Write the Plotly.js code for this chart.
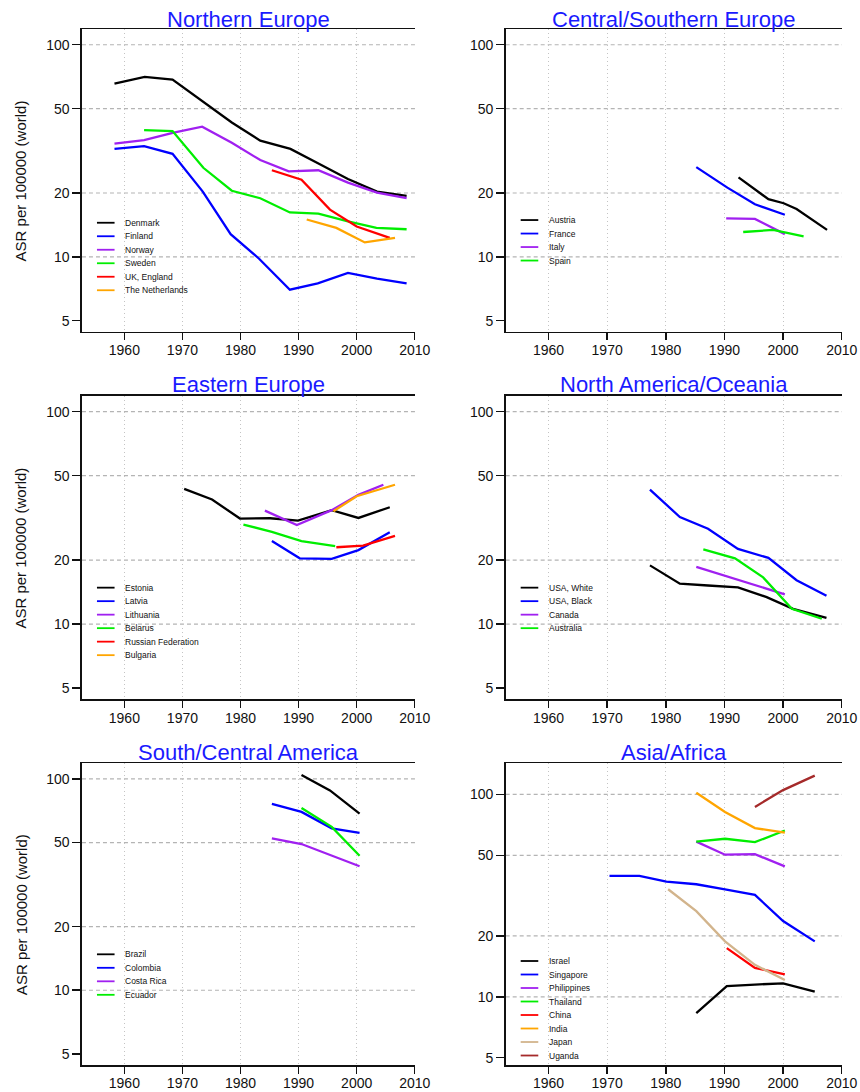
<!DOCTYPE html>
<html><head><meta charset="utf-8">
<script src="https://cdn.plot.ly/plotly-3.0.1.min.js"></script>
<style>html,body{margin:0;padding:0;background:#fff}#chart{width:860px;height:1092px}</style>
</head><body><div id="chart"></div>
<script>
// ---------- DATA (year, ASR per 100000 world) ----------
// Northern Europe
const yrDenmark = [1958.3, 1963.5, 1968.3, 1973.5, 1978.5, 1983.4, 1988.6, 1993.5, 1998.5, 2003.5, 2008.6];
const asrDenmark = [65.5, 70.5, 68.5, 54, 43, 35.3, 32.3, 27.5, 23.3, 20.3, 19.4];
const yrFinland = [1958.3, 1963.4, 1968.3, 1973.5, 1978.3, 1983.2, 1988.5, 1993.3, 1998.5, 2003.5, 2008.6];
const asrFinland = [32.3, 33.3, 30.6, 20.3, 12.8, 9.8, 7.0, 7.5, 8.4, 7.9, 7.5];
const yrNorway = [1958.3, 1963.4, 1968.5, 1973.4, 1978.5, 1983.4, 1988.3, 1993.4, 1998.5, 2003.5, 2008.6];
const asrNorway = [34.2, 35.5, 38.5, 41.1, 34.5, 28.6, 25.3, 25.6, 22.4, 20.1, 18.9];
const yrSweden = [1963.4, 1968.3, 1973.6, 1978.5, 1983.4, 1988.5, 1993.4, 1998.5, 2003.4, 2008.6];
const asrSweden = [39.6, 39.2, 26.3, 20.5, 18.9, 16.2, 16.0, 14.7, 13.7, 13.5];
const yrUK = [1985.4, 1990.5, 1995.4, 2000.0, 2005.7];
const asrUK = [25.6, 23.1, 16.7, 13.9, 12.3];
const yrNetherlands = [1991.4, 1996.5, 2001.4, 2006.6];
const asrNetherlands = [15.0, 13.7, 11.7, 12.3];
// Central/Southern Europe
const yrAustria = [1992.4, 1997.5, 2000.1, 2002.3, 2007.5];
const asrAustria = [23.7, 18.7, 17.9, 16.8, 13.4];
const yrFrance = [1985.2, 1990.5, 1995.2, 2000.3];
const asrFrance = [26.5, 21.2, 17.7, 15.8];
const yrItaly = [1990.3, 1995.2, 2000.3];
const asrItaly = [15.2, 15.1, 12.8];
const yrSpain = [1993.2, 1998.3, 2003.5];
const asrSpain = [13.1, 13.4, 12.5];
// Eastern Europe
const yrEstonia = [1970.3, 1975.1, 1979.9, 1985.1, 1989.9, 1995.7, 2000.3, 2005.7];
const asrEstonia = [43.3, 38.6, 31.4, 31.5, 30.7, 34.4, 31.6, 35.5];
const yrLatvia = [1985.4, 1990.2, 1995.7, 2000.3, 2005.7];
const asrLatvia = [24.6, 20.4, 20.3, 22.3, 27.1];
const yrLithuania = [1984.2, 1989.7, 1995.7, 2000.3, 2004.6];
const asrLithuania = [34.2, 29.3, 34.4, 40.6, 45.3];
const yrBelarus = [1980.5, 1985.4, 1990.5, 1996.3];
const asrBelarus = [29.4, 27.2, 24.6, 23.3];
const yrRussia = [1996.5, 2001.1, 2006.6];
const asrRussia = [23.0, 23.4, 26.0];
const yrBulgaria = [1996.0, 2000.0, 2006.6];
const asrBulgaria = [34.0, 40.0, 45.3];
// North America/Oceania
const yrUSAWhite = [1977.3, 1982.4, 1987.2, 1992.3, 1997.2, 2001.7, 2007.4];
const asrUSAWhite = [18.9, 15.5, 15.2, 14.9, 13.4, 11.8, 10.7];
const yrUSABlack = [1977.3, 1982.4, 1987.2, 1992.3, 1997.5, 2002.3, 2007.4];
const asrUSABlack = [43.0, 31.9, 28.1, 22.6, 20.5, 16.1, 13.6];
const yrCanada = [1985.2, 2000.3];
const asrCanada = [18.6, 13.8];
const yrAustralia = [1986.4, 1991.8, 1996.6, 2001.5, 2006.6];
const asrAustralia = [22.5, 20.4, 16.6, 11.8, 10.6];
// South/Central America
const yrBrazil = [1990.5, 1995.4, 2000.5];
const asrBrazil = [104.4, 88.2, 68.5];
const yrColombia = [1985.4, 1990.5, 1995.7, 2000.5];
const asrColombia = [76.3, 69.8, 58.4, 55.6];
const yrCostaRica = [1985.4, 1990.5, 2000.5];
const asrCostaRica = [52.3, 49.2, 38.6];
const yrEcuador = [1990.5, 1995.7, 2000.5];
const asrEcuador = [72.9, 59.3, 43.3];
// Asia/Africa
const yrIsrael = [1985.2, 1990.4, 1995.2, 2000.0, 2005.4];
const asrIsrael = [8.3, 11.3, 11.5, 11.65, 10.6];
const yrSingapore = [1970.4, 1975.5, 1980.1, 1985.2, 1990.1, 1995.2, 2000.0, 2005.4];
const asrSingapore = [39.6, 39.6, 37.1, 36.0, 34.0, 31.9, 23.7, 18.8];
const yrPhilippines = [1985.2, 1990.1, 1995.2, 2000.3];
const asrPhilippines = [58.5, 50.4, 50.7, 44.1];
const yrThailand = [1985.2, 1990.1, 1995.2, 2000.3];
const asrThailand = [58.5, 60.4, 58.1, 66.4];
const yrChina = [1990.4, 1995.2, 2000.3];
const asrChina = [17.4, 13.9, 12.9];
const yrIndia = [1985.2, 1990.1, 1995.2, 2000.3];
const asrIndia = [101.9, 82.0, 68.2, 64.7];
const yrJapan = [1980.4, 1985.2, 1990.1, 1995.2, 2000.3];
const asrJapan = [34.0, 26.5, 18.8, 14.4, 12.1];
const yrUganda = [1995.2, 2000.0, 2005.4];
const asrUganda = [86.8, 105.1, 123.9];

// tick labels
const xTickYears = [1960, 1970, 1980, 1990, 2000, 2010];
const yTickVals = [5, 10, 20, 50, 100];
const yTickText = ['5', '10', '20', '50', '100'];
const yGridVals = [10, 20, 50, 100];

// ---------- PANELS ----------
const C = {black:'#000000', blue:'#0000FF', purple:'#A020F0', green:'#00EE00', red:'#FF0000', orange:'#FFA500', tan:'#D2B48C', brown:'#A52A2A'};
const panels = [
  {title:'Northern Europe', series:[
    ['Denmark', yrDenmark, asrDenmark, C.black], ['Finland', yrFinland, asrFinland, C.blue],
    ['Norway', yrNorway, asrNorway, C.purple], ['Sweden', yrSweden, asrSweden, C.green],
    ['UK, England', yrUK, asrUK, C.red], ['The Netherlands', yrNetherlands, asrNetherlands, C.orange]]},
  {title:'Central/Southern Europe', series:[
    ['Austria', yrAustria, asrAustria, C.black], ['France', yrFrance, asrFrance, C.blue],
    ['Italy', yrItaly, asrItaly, C.purple], ['Spain', yrSpain, asrSpain, C.green]]},
  {title:'Eastern Europe', series:[
    ['Estonia', yrEstonia, asrEstonia, C.black], ['Latvia', yrLatvia, asrLatvia, C.blue],
    ['Lithuania', yrLithuania, asrLithuania, C.purple], ['Belarus', yrBelarus, asrBelarus, C.green],
    ['Russian Federation', yrRussia, asrRussia, C.red], ['Bulgaria', yrBulgaria, asrBulgaria, C.orange]]},
  {title:'North America/Oceania', series:[
    ['USA, White', yrUSAWhite, asrUSAWhite, C.black], ['USA, Black', yrUSABlack, asrUSABlack, C.blue],
    ['Canada', yrCanada, asrCanada, C.purple], ['Australia', yrAustralia, asrAustralia, C.green]]},
  {title:'South/Central America', series:[
    ['Brazil', yrBrazil, asrBrazil, C.black], ['Colombia', yrColombia, asrColombia, C.blue],
    ['Costa Rica', yrCostaRica, asrCostaRica, C.purple], ['Ecuador', yrEcuador, asrEcuador, C.green]]},
  {title:'Asia/Africa', series:[
    ['Israel', yrIsrael, asrIsrael, C.black], ['Singapore', yrSingapore, asrSingapore, C.blue],
    ['Philippines', yrPhilippines, asrPhilippines, C.purple], ['Thailand', yrThailand, asrThailand, C.green],
    ['China', yrChina, asrChina, C.red], ['India', yrIndia, asrIndia, C.orange],
    ['Japan', yrJapan, asrJapan, C.tan], ['Uganda', yrUganda, asrUganda, C.brown]]}
];

// ---------- LAYOUT ----------
const W = 860, H = 1092;
const colDomains = [[0.0953, 0.4826], [0.5880, 0.9791]];
const rowDomains = [[0.6960, 0.9734], [0.3596, 0.6374], [0.0247, 0.3010]];
const yRanges = [[0.646, 2.074], [0.646, 2.074], [0.646, 2.074], [0.646, 2.074], [0.646, 2.074], [0.663, 2.154]];
const titleShift = [9.5, 11.5, 11];
const legendTop = [193.7, 191, 191.7, 191.7, 191, 197.7];
const legendStep = 13.5;
const FONT = 'Liberation Sans, Arial, Helvetica, sans-serif';

const traces = [];
const layout = {
  width: W, height: H, margin: {l:0, r:0, t:0, b:0},
  paper_bgcolor: '#ffffff', plot_bgcolor: '#ffffff',
  showlegend: false, font: {family: FONT, color: '#111'},
  shapes: [], annotations: []
};

panels.forEach((p, i) => {
  const n = i + 1, row = Math.floor(i / 2), col = i % 2;
  const xa = 'x' + n, ya = 'y' + n;
  const wpx = (colDomains[col][1] - colDomains[col][0]) * W;
  const hpx = (rowDomains[row][1] - rowDomains[row][0]) * H;
  layout['xaxis' + n] = {
    domain: colDomains[col], anchor: ya, range: [1952.7, 2010.05],
    tickmode: 'array', tickvals: xTickYears, ticktext: xTickYears.map(String),
    ticks: 'outside', ticklen: 7, tickwidth: 1.5, tickcolor: '#111', ticklabelstandoff: -2,
    showline: true, mirror: true, linecolor: '#111', linewidth: 1.5,
    showgrid: true, gridcolor: '#c4c4c4', gridwidth: 1, griddash: '1px,3px',
    zeroline: false, tickfont: {family: FONT, size: 14, color: '#111'}, fixedrange: true
  };
  layout['yaxis' + n] = {
    domain: rowDomains[row], anchor: xa, type: 'log', range: yRanges[i],
    tickmode: 'array', tickvals: yTickVals, ticktext: yTickText,
    ticks: 'outside', ticklen: 8, tickwidth: 1.5, tickcolor: '#111',
    showline: true, mirror: false, linecolor: '#111', linewidth: 1.5,
    showgrid: false, zeroline: false,
    tickfont: {family: FONT, size: 14, color: '#111'}, fixedrange: true
  };
  yGridVals.forEach(v => layout.shapes.push({
    type: 'line', layer: 'below', xref: xa + ' domain', x0: 0, x1: 1,
    yref: ya, y0: v, y1: v, line: {color: '#b4b4b4', width: 1.2, dash: '4px,3px'}
  }));
  layout.annotations.push({
    text: p.title, xref: xa + ' domain', yref: ya + ' domain', x: 0.5, y: 1,
    xanchor: 'center', yanchor: 'middle', yshift: titleShift[row], showarrow: false,
    font: {family: FONT, size: 22, color: '#1a1aff'}
  });
  if (col === 0) {
    layout.annotations.push({
      text: 'ASR per 100000 (world)', xref: xa + ' domain', yref: ya + ' domain',
      x: 0, y: 0.5, xshift: -61, xanchor: 'center', yanchor: 'middle', textangle: -90,
      showarrow: false, font: {family: FONT, size: 15, color: '#111'}
    });
  }
  p.series.forEach((s, k) => {
    traces.push({
      type: 'scatter', mode: 'lines', name: s[0], x: s[1], y: s[2],
      xaxis: xa, yaxis: ya, line: {color: s[3], width: 2.3}, hoverinfo: 'skip'
    });
    const ly = 1 - (legendTop[i] + k * legendStep) / hpx;
    layout.shapes.push({
      type: 'line', xref: xa + ' domain', yref: ya + ' domain',
      x0: 15 / wpx, x1: 32.6 / wpx, y0: ly, y1: ly, line: {color: s[3], width: 1.8}
    });
    layout.annotations.push({
      text: s[0], xref: xa + ' domain', yref: ya + ' domain', x: 41 / wpx, y: ly,
      xanchor: 'left', yanchor: 'middle', showarrow: false,
      font: {family: FONT, size: 8.5, color: '#111'}
    });
  });
});

Plotly.newPlot('chart', traces, layout, {staticPlot: true, displayModeBar: false});
</script></body></html>
